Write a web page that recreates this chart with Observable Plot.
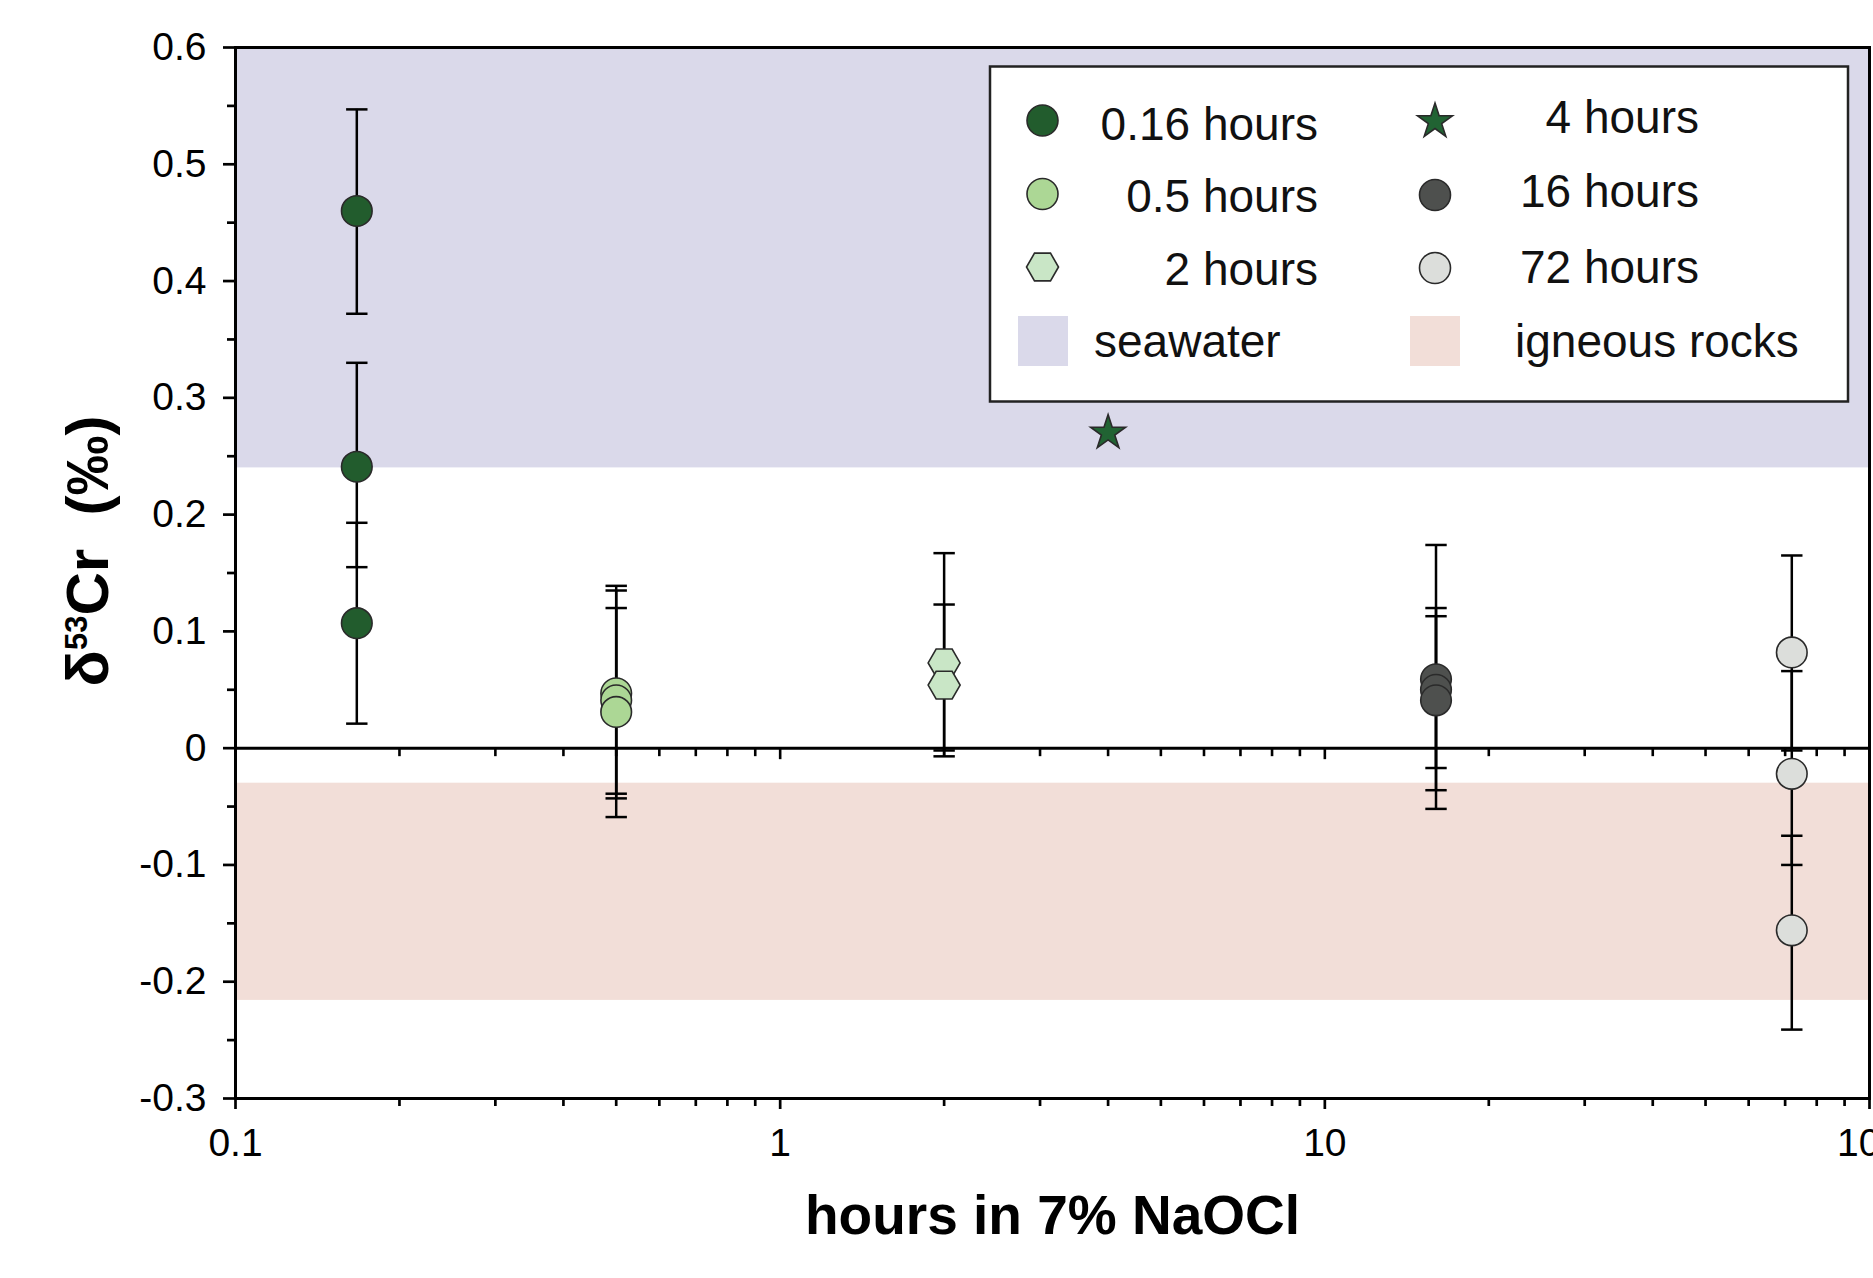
<!DOCTYPE html>
<html>
<head>
<meta charset="utf-8">
<script src="https://cdn.jsdelivr.net/npm/d3@7"></script>
<script src="https://cdn.jsdelivr.net/npm/@observablehq/plot@0.6"></script>
<style>
  html, body { margin: 0; padding: 0; background: #fff; overflow: hidden; }
  #wrap { position: relative; width: 1873px; height: 1278px; }
  #legend { position: absolute; left: 988px; top: 65px; }
</style>
</head>
<body>
<div id="wrap"></div>
<script>
// ---------- data ----------
const groups = ["0.16 hours", "0.5 hours", "2 hours", "4 hours", "16 hours", "72 hours"];
const groupColors = ["#225c2d", "#acd795", "#c9e6c6", "#216333", "#4e504e", "#dcdedb"];
const groupSymbols = ["circle", "circle", "hexagon", "star", "circle", "circle"];

const pointGroup = [0, 0, 0, 1, 1, 1, 2, 2, 3, 4, 4, 4, 5, 5, 5];
const pointHours = [0.167, 0.167, 0.167, 0.5, 0.5, 0.5, 2, 2, 4, 16, 16, 16, 72, 72, 72];
const pointDelta = [0.460, 0.241, 0.107, 0.047, 0.041, 0.031, 0.073, 0.054, 0.270, 0.059, 0.050, 0.041, 0.082, -0.022, -0.156];
const errLow  = [0.372, 0.155, 0.021, -0.043, -0.039, -0.059, -0.007, -0.002, null, -0.052, -0.017, -0.036, -0.002, -0.100, -0.241];
const errHigh = [0.547, 0.330, 0.193, 0.139, 0.135, 0.120, 0.167, 0.123, null, 0.174, 0.120, 0.113, 0.165, 0.066, -0.075];

const bandNames = ["seawater", "igneous rocks"];
const bandLow = [0.240, -0.216];
const bandHigh = [0.600, -0.030];
const bandColors = ["#dad9ea", "#f2ded8"];

const yMajorTicks = [-0.3, -0.2, -0.1, 0, 0.1, 0.2, 0.3, 0.4, 0.5, 0.6];
const yTickLabels = ["-0.3", "-0.2", "-0.1", "0", "0.1", "0.2", "0.3", "0.4", "0.5", "0.6"];
const yMinorTicks = [-0.25, -0.15, -0.05, 0.05, 0.15, 0.25, 0.35, 0.45, 0.55];
const xMajorTicks = [0.1, 1, 10, 100];
const xTickLabels = ["0.1", "1", "10", "100"];
const xMinorTicks = [0.2, 0.3, 0.4, 0.5, 0.6, 0.7, 0.8, 0.9, 2, 3, 4, 5, 6, 7, 8, 9, 20, 30, 40, 50, 60, 70, 80, 90];
const xZeroMajor = [1, 10];

const xTitle = "hours in 7% NaOCl";

// ---------- custom symbols ----------
const hexFlat = { draw(ctx, size) {
  const R = Math.sqrt(size / Math.PI);
  for (let i = 0; i < 6; i++) {
    const a = i * Math.PI / 3, px = R * Math.cos(a), py = R * Math.sin(a);
    if (i) ctx.lineTo(px, py); else ctx.moveTo(px, py);
  }
  ctx.closePath();
}};
const capSym = { draw(ctx, size) { const w = Math.sqrt(size / Math.PI); ctx.moveTo(-w, 0); ctx.lineTo(w, 0); } };
const vTick = { draw(ctx, size) { const L = Math.sqrt(size / Math.PI); ctx.moveTo(0, 0); ctx.lineTo(0, L); } };

const FONT = "'Liberation Sans', Arial, Helvetica, sans-serif";
const idx = d3.range(pointHours.length);
const hasErr = i => errLow[i] != null;
const symOf = i => groupSymbols[pointGroup[i]];
const markerStroke = "#2a2a2a";

const plot = Plot.plot({
  width: 1873,
  height: 1278,
  marginLeft: 235,
  marginRight: 4,
  marginTop: 47,
  marginBottom: 180,
  x: { type: "log", domain: [0.1, 100] },
  y: { domain: [-0.3, 0.6] },
  color: { type: "identity" },
  style: { fontFamily: FONT, fontSize: "39px", background: "white", color: "black", overflow: "visible" },
  marks: [
    Plot.rect(d3.range(bandNames.length), {
      x1: () => 0.1, x2: () => 100,
      y1: i => bandLow[i], y2: i => bandHigh[i],
      fill: i => bandColors[i]
    }),
    Plot.ruleY([0], { stroke: "black", strokeWidth: 3 }),
    Plot.dot(xMinorTicks, { x: d => d, y: () => 0, symbol: vTick, r: 8, stroke: "black", strokeWidth: 2.6, fill: "none" }),
    Plot.dot(xZeroMajor, { x: d => d, y: () => 0, symbol: vTick, r: 11, stroke: "black", strokeWidth: 2.6, fill: "none" }),
    Plot.axisY(yMinorTicks, { tickSize: 8, tickFormat: () => "", label: null, strokeWidth: 2.7 }),
    Plot.axisY(yMajorTicks, {
      tickSize: 12, tickPadding: 17, label: null, strokeWidth: 2.7, fontSize: 39,
      tickFormat: d => yTickLabels[yMajorTicks.indexOf(d)]
    }),
    Plot.axisX(xMinorTicks, { tickSize: 8, tickFormat: () => "", label: null, strokeWidth: 2.7 }),
    Plot.axisX(xMajorTicks, {
      tickSize: 11, tickPadding: 19, label: null, strokeWidth: 2.7, fontSize: 39,
      tickFormat: d => xTickLabels[xMajorTicks.indexOf(d)]
    }),
    // error bars
    Plot.ruleX(idx, { filter: hasErr, x: i => pointHours[i], y1: i => errLow[i], y2: i => errHigh[i], stroke: "black", strokeWidth: 2.5 }),
    Plot.dot(idx, { filter: hasErr, x: i => pointHours[i], y: i => errLow[i], symbol: capSym, r: 10.7, stroke: "black", strokeWidth: 2.5, fill: "none" }),
    Plot.dot(idx, { filter: hasErr, x: i => pointHours[i], y: i => errHigh[i], symbol: capSym, r: 10.7, stroke: "black", strokeWidth: 2.5, fill: "none" }),
    // points
    Plot.dot(idx, { filter: i => symOf(i) === "circle", x: i => pointHours[i], y: i => pointDelta[i],
      r: 15.3, fill: i => groupColors[pointGroup[i]], stroke: markerStroke, strokeWidth: 1.6 }),
    Plot.dot(idx, { filter: i => symOf(i) === "hexagon", x: i => pointHours[i], y: i => pointDelta[i],
      symbol: hexFlat, r: 16, fill: i => groupColors[pointGroup[i]], stroke: markerStroke, strokeWidth: 1.6 }),
    Plot.dot(idx, { filter: i => symOf(i) === "star", x: i => pointHours[i], y: i => pointDelta[i],
      symbol: "star", r: 11, fill: i => groupColors[pointGroup[i]], stroke: markerStroke, strokeWidth: 1.6 }),
    Plot.frame({ stroke: "black", strokeWidth: 3 }),
    Plot.text([xTitle], { frameAnchor: "bottom", dy: 135, fontSize: 55, fontWeight: "bold", fill: "black" })
  ]
});

document.getElementById("wrap").appendChild(plot);

// y-axis title with superscript
const svg = d3.select(plot);
const yl = svg.append("text")
  .attr("transform", "translate(108,551) rotate(-90)")
  .attr("text-anchor", "middle")
  .attr("fill", "black")
  .style("font-family", FONT)
  .style("font-size", "60px")
  .style("font-weight", "bold");
yl.append("tspan").text("δ");
yl.append("tspan").attr("dy", -21).style("font-size", "31px").text("53");
yl.append("tspan").attr("dy", 21).text("Cr");
yl.append("tspan").text("\u00A0\u00A0(‰)");

// ---------- legend (overlay) ----------
const L0x = 988, L0y = 65;
const lg = d3.select("#wrap").append("svg")
  .attr("id", "legend")
  .attr("width", 864).attr("height", 340)
  .style("font-family", FONT);
lg.append("rect").attr("x", 2).attr("y", 1.5).attr("width", 858).attr("height", 335)
  .attr("fill", "white").attr("stroke", "#222").attr("stroke-width", 2.5);

const colMarkerX = [1042.5, 1435];
const colTextRight = [1318, 1699];
const markerY = [[120.5, 194, 267], [121.5, 195, 268]];
const textBase = [[140, 211.7, 285], [132.7, 206.7, 282.7]];
const symObj = { circle: d3.symbolCircle, hexagon: hexFlat, star: d3.symbolStar };
const symR = { circle: 15.5, hexagon: 16, star: 11 };
groups.forEach((g, gi) => {
  const col = gi < 3 ? 0 : 1, row = gi % 3;
  const s = groupSymbols[gi];
  lg.append("path")
    .attr("d", d3.symbol().type(symObj[s]).size(Math.PI * symR[s] * symR[s])())
    .attr("transform", `translate(${colMarkerX[col] - L0x},${markerY[col][row] - L0y})`)
    .attr("fill", groupColors[gi]).attr("stroke", markerStroke).attr("stroke-width", 1.6);
  lg.append("text")
    .attr("x", colTextRight[col] - L0x).attr("y", textBase[col][row] - L0y)
    .attr("text-anchor", "end").style("font-size", "46px").attr("fill", "#111")
    .text(g);
});
const swX = [1018, 1410], txX = [1094, 1515];
bandNames.forEach((b, bi) => {
  lg.append("rect").attr("x", swX[bi] - L0x).attr("y", 316 - L0y).attr("width", 50).attr("height", 50)
    .attr("fill", bandColors[bi]);
  lg.append("text").attr("x", txX[bi] - L0x).attr("y", 356.7 - L0y)
    .style("font-size", "46px").attr("fill", "#111").text(b);
});
</script>
</body>
</html>
